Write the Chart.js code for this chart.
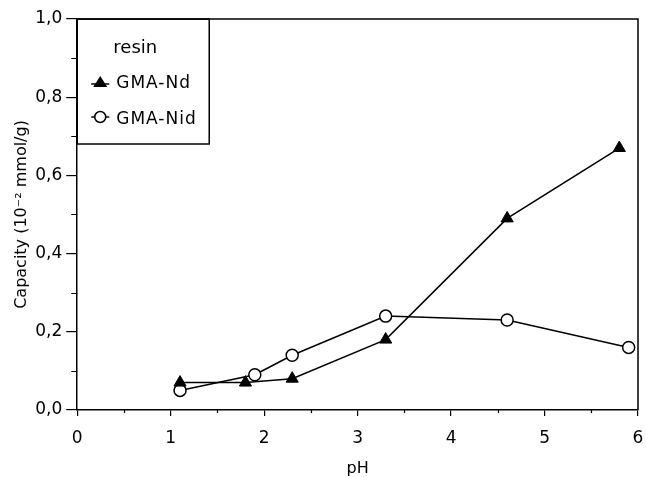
<!DOCTYPE html>
<html>
<head>
<meta charset="utf-8">
<script src="https://cdn.jsdelivr.net/npm/chart.js@4/dist/chart.umd.min.js"></script>
<style>
  html, body { margin: 0; padding: 0; background: #fff; }
  #grafico { display: block; }
</style>
</head>
<body>
<canvas id="grafico" width="646" height="477"></canvas>
<script>
const phNd = [1.1, 1.8, 2.3, 3.3, 4.6, 5.8];
const capacidadeNd = [0.07, 0.07, 0.08, 0.18, 0.49, 0.67];
const phNid = [1.1, 1.9, 2.3, 3.3, 4.6, 5.9];
const capacidadeNid = [0.05, 0.09, 0.14, 0.24, 0.23, 0.16];
const rotulosX = ['0', '1', '2', '3', '4', '5', '6'];
const rotulosY = ['0,0', '0,2', '0,4', '0,6', '0,8', '1,0'];
const nomesSeries = ['GMA-Nd', 'GMA-Nid'];

const fonte = '"DejaVu Sans", Verdana, sans-serif';

document.addEventListener('DOMContentLoaded', function() {
    const ctx = document.getElementById('grafico').getContext('2d');

    function montarPontos(xs, ys) {
        return xs.map((x, i) => ({ x: x, y: ys[i] }));
    }

    // tracinhos menores nos eixos
    const pluginTicksMenores = {
        id: 'ticksMenores',
        afterDraw(chart) {
            const c = chart.ctx;
            const sx = chart.scales.x, sy = chart.scales.y;
            c.save();
            c.strokeStyle = '#000';
            c.lineWidth = 1.2;
            c.beginPath();
            for (let v = sx.min + 0.5; v < sx.max; v += 1) {
                const px = Math.round(sx.getPixelForValue(v)) + 0.5;
                c.moveTo(px, sy.bottom);
                c.lineTo(px, sy.bottom + 3);
            }
            for (let v = sy.min + 0.1; v < sy.max; v += 0.2) {
                const py = Math.round(sy.getPixelForValue(v)) + 0.5;
                c.moveTo(sx.left, py);
                c.lineTo(sx.left - 6, py);
            }
            c.stroke();
            c.restore();
        }
    };

    // moldura + legenda dentro do grafico
    const pluginMoldura = {
        id: 'moldura',
        afterDraw(chart) {
            const c = chart.ctx;
            const area = chart.chartArea;
            c.save();
            c.strokeStyle = '#000';
            c.lineWidth = 1.5;
            c.beginPath();
            c.moveTo(area.left, area.top);
            c.lineTo(area.right, area.top);
            c.lineTo(area.right, area.bottom);
            c.stroke();

            // caixa da legenda
            const larg = 132, alt = 125;
            c.strokeRect(area.left, area.top, larg, alt);
            c.fillStyle = '#000';
            c.font = '18px ' + fonte;
            c.textAlign = 'center';
            c.textBaseline = 'middle';
            c.fillText('resin', area.left + 58, area.top + 29);

            c.font = '17px ' + fonte;
            c.textAlign = 'left';
            c.letterSpacing = '1px';
            // triangulo
            const tx = area.left + 23, ty = area.top + 63;
            c.beginPath();
            c.moveTo(tx, ty - 6);
            c.lineTo(tx + 7, ty + 5);
            c.lineTo(tx - 7, ty + 5);
            c.closePath();
            c.fill();
            c.beginPath();
            c.moveTo(tx - 9, ty + 2);
            c.lineTo(tx + 9, ty + 2);
            c.stroke();
            c.fillText(nomesSeries[0], area.left + 39, area.top + 65);
            // circulo
            const cx = area.left + 23, cy = area.top + 98;
            c.beginPath();
            c.moveTo(cx - 9, cy);
            c.lineTo(cx + 9, cy);
            c.stroke();
            c.beginPath();
            c.arc(cx, cy, 5.5, 0, Math.PI * 2);
            c.fillStyle = '#fff';
            c.fill();
            c.stroke();
            c.fillStyle = '#000';
            c.fillText(nomesSeries[1], area.left + 39, area.top + 101);
            c.restore();
        }
    };

    new Chart(ctx, {
        type: 'scatter',
        data: {
            datasets: [
                {
                    label: nomesSeries[0],
                    data: montarPontos(phNd, capacidadeNd),
                    showLine: true,
                    borderColor: '#000',
                    borderWidth: 1.5,
                    pointStyle: 'triangle',
                    pointRadius: 7,
                    pointBackgroundColor: '#000',
                    pointBorderColor: '#000',
                    pointBorderWidth: 1
                },
                {
                    label: nomesSeries[1],
                    data: montarPontos(phNid, capacidadeNid),
                    showLine: true,
                    borderColor: '#000',
                    borderWidth: 1.5,
                    pointStyle: 'circle',
                    pointRadius: 6,
                    pointBackgroundColor: '#fff',
                    pointBorderColor: '#000',
                    pointBorderWidth: 1.5
                }
            ]
        },
        options: {
            responsive: false,
            animation: false,
            layout: { padding: { top: 19, right: 0, bottom: 0, left: 8 } },
            plugins: {
                legend: { display: false },
                tooltip: { enabled: false }
            },
            scales: {
                x: {
                    type: 'linear',
                    min: 0,
                    max: 6,
                    ticks: {
                        stepSize: 1,
                        autoSkip: false,
                        maxRotation: 0,
                        color: '#000',
                        font: { family: fonte, size: 17, lineHeight: 2.65 },
                        padding: 0,
                        callback: function(valor) {
                            return rotulosX[valor];
                        }
                    },
                    grid: { drawOnChartArea: false, drawTicks: true, tickLength: 6, color: '#000', lineWidth: 1.2 },
                    border: { display: true, color: '#000', width: 1.5 },
                    title: { display: true, text: 'pH', color: '#000', font: { family: fonte, size: 16, lineHeight: 1 }, padding: { top: 0, bottom: 0 } }
                },
                y: {
                    type: 'linear',
                    min: 0,
                    max: 1,
                    ticks: {
                        stepSize: 0.2,
                        autoSkip: false,
                        color: '#000',
                        font: { family: fonte, size: 17 },
                        padding: 4,
                        callback: function(valor) {
                            return rotulosY[Math.round(valor * 5)];
                        }
                    },
                    grid: { drawOnChartArea: false, drawTicks: true, tickLength: 11, color: '#000', lineWidth: 1.2 },
                    border: { display: true, color: '#000', width: 1.5 },
                    title: { display: true, text: 'Capacity (10\u207B\u00B2 mmol/g)', color: '#000', font: { family: fonte, size: 16 }, padding: { top: 4, bottom: 0 } }
                }
            }
        },
        plugins: [pluginTicksMenores, pluginMoldura]
    });
});
</script>
</body>
</html>
